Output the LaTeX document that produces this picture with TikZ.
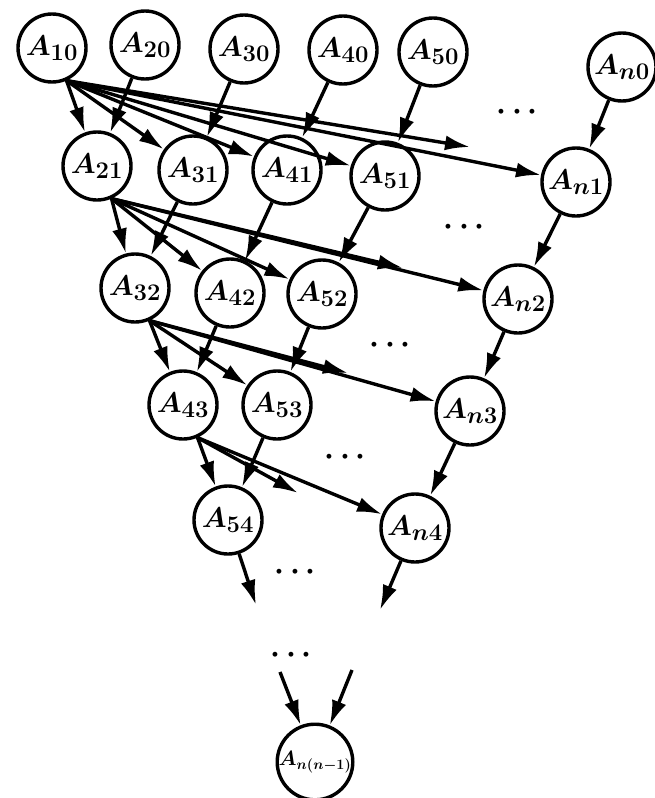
\documentclass[tikz,border=0pt]{standalone}
\usepackage{graphicx}
\usetikzlibrary{arrows.meta}
\newcommand\lbl[1]{\scalebox{1.15}{$#1$}}
\newcommand\dts{\scalebox{1.25}{$\cdots$}}
\begin{document}
\begin{tikzpicture}[x=1pt,y=-1pt,
  st/.style={circle,draw,line width=3.4pt,minimum size=68pt,inner sep=0pt,font=\Huge\boldmath},
  ar/.style={line width=3.4pt,-{Latex[length=25pt,width=15pt]}},
  dt/.style={font=\Huge\boldmath}]
\useasboundingbox (0,0) rectangle (654,798);
% row 0
\node[st] (A10) at (52,48) {\lbl{A_{10}}};
\node[st] (A20) at (145,45) {\lbl{A_{20}}};
\node[st] (A30) at (244,49) {\lbl{A_{30}}};
\node[st] (A40) at (343,50) {\lbl{A_{40}}};
\node[st] (A50) at (433,52) {\lbl{A_{50}}};
\node[st] (An0) at (622,67) {\lbl{A_{n0}}};
% row 1
\node[st] (A21) at (97,166) {\lbl{A_{21}}};
\node[st] (A31) at (193,170) {\lbl{A_{31}}};
\node[st] (A41) at (287,170) {\lbl{A_{41}}};
\node[st] (A51) at (385,176) {\lbl{A_{51}}};
\node[st] (An1) at (576,182) {\lbl{A_{n1}}};
% row 2
\node[st] (A32) at (135,288) {\lbl{A_{32}}};
\node[st] (A42) at (230,293) {\lbl{A_{42}}};
\node[st] (A52) at (322,294) {\lbl{A_{52}}};
\node[st] (An2) at (518,299) {\lbl{A_{n2}}};
% row 3
\node[st] (A43) at (183,405) {\lbl{A_{43}}};
\node[st] (A53) at (277,405) {\lbl{A_{53}}};
\node[st] (An3) at (470,411) {\lbl{A_{n3}}};
% row 4
\node[st] (A54) at (228,520) {\lbl{A_{54}}};
\node[st] (An4) at (415,528) {\lbl{A_{n4}}};
% last
\node[st,font=\huge\boldmath] (Ann) at (315,762) {$A_{n(n-1)}$};
% dots
\node[dt] (d1) at (517,112) {\dts};
\node[dt] (d2) at (464,227) {\dts};
\node[dt] (d3) at (390,345) {\dts};
\node[dt] (d4) at (345,457) {\dts};
\node[dt] (d5) at (295,572) {\dts};
\node[dt] (d6) at (291,655) {\dts};
% free ends
\coordinate (f1) at (470,147);
\coordinate (f2) at (403,268);
\coordinate (f3) at (348,373);
\coordinate (f4) at (298,493);
\coordinate (f5) at (256,605);
\coordinate (f6) at (380,610);
\coordinate (g1) at (280,672);
\coordinate (g2) at (352,670);
% row 0 -> row 1
\foreach \t in {A21,A31,A41,A51,An1} \draw[ar] (A10.-66) -- (\t);
\draw[ar] (A10.-66) -- (f1);
\draw[ar] (A20) -- (A21);
\draw[ar] (A30) -- (A31);
\draw[ar] (A40) -- (A41);
\draw[ar] (A50) -- (A51);
\draw[ar] (An0) -- (An1);
% row 1 -> row 2
\foreach \t in {A32,A42,A52,An2} \draw[ar] (A21.-66) -- (\t);
\draw[ar] (A21.-66) -- (f2);
\draw[ar] (A31) -- (A32);
\draw[ar] (A41) -- (A42);
\draw[ar] (A51) -- (A52);
\draw[ar] (An1) -- (An2);
% row 2 -> row 3
\foreach \t in {A43,A53,An3} \draw[ar] (A32.-66) -- (\t);
\draw[ar] (A32.-66) -- (f3);
\draw[ar] (A42) -- (A43);
\draw[ar] (A52) -- (A53);
\draw[ar] (An2) -- (An3);
% row 3 -> row 4
\foreach \t in {A54,An4} \draw[ar] (A43.-66) -- (\t);
\draw[ar] (A43.-66) -- (f4);
\draw[ar] (A53) -- (A54);
\draw[ar] (An3) -- (An4);
% row 4 -> free
\draw[ar] (A54) -- (f5);
\draw[ar] (An4) -- (f6);
% into last
\draw[ar] (g1) -- (Ann);
\draw[ar] (g2) -- (Ann);
\end{tikzpicture}
\end{document}
